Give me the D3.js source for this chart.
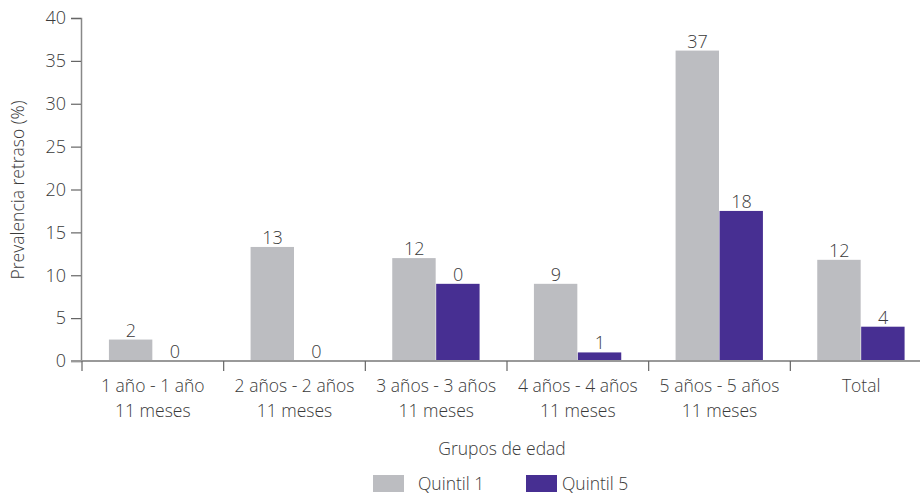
<!DOCTYPE html>
<html>
<head>
<meta charset="utf-8">
<script src="https://cdn.jsdelivr.net/npm/d3@7"></script>
<style>
  body { margin: 0; background: #fff; }
  svg text { font-family: "Open Sans", "Noto Sans", sans-serif; font-weight: 300; fill: #3a3a3a; }
</style>
</head>
<body>
<svg id="chart" width="920" height="494"></svg>
<script>
// age groups (two-line tick labels)
var groups = [
    ["1 año - 1 año", "11 meses"],
    ["2 años - 2 años", "11 meses"],
    ["3 años - 3 años", "11 meses"],
    ["4 años - 4 años", "11 meses"],
    ["5 años - 5 años", "11 meses"],
    ["Total"]
];
var seriesNames = ["Quintil 1", "Quintil 5"];
var quintil1 = [2.5, 13.3, 12.0, 9.0, 36.2, 11.8];
var quintil5 = [0, 0, 9.0, 1.0, 17.5, 4.0];
// labels as printed on the chart
var labels1 = ["2", "13", "12", "9", "37", "12"];
var labels5 = ["0", "0", "0", "1", "18", "4"];
var yTicks = [0, 5, 10, 15, 20, 25, 30, 35, 40];
var colors = ["#bcbdc1", "#472f92"];

var svg = d3.select("#chart");

var x = d3.scaleBand()
    .domain(d3.range(groups.length))
    .range([82, 932])
    .paddingInner(0)
    .paddingOuter(0);

var xInner = d3.scaleBand()
    .domain([0, 1])
    .range([x.bandwidth() * 0.19, x.bandwidth() * 0.81]);

var y = d3.scaleLinear()
    .domain([0, 40])
    .range([361, 18]);

var rows = groups.map(function(g, i) {
    return [
        {group: i, s: 0, value: quintil1[i], label: labels1[i]},
        {group: i, s: 1, value: quintil5[i], label: labels5[i]}
    ];
});

// bars
var gGroup = svg.append("g")
    .selectAll("g")
    .data(rows)
    .enter().append("g")
    .attr("transform", function(d, i) { return "translate(" + x(i) + ",0)"; });

gGroup.selectAll("rect")
    .data(function(d) { return d; })
    .enter().append("rect")
    .attr("x", function(d) { return xInner(d.s); })
    .attr("width", xInner.bandwidth() - 0.5)
    .attr("y", function(d) { return y(d.value); })
    .attr("height", function(d) { return y(0) - y(d.value); })
    .style("fill", function(d) { return colors[d.s]; });

gGroup.selectAll("text")
    .data(function(d) { return d; })
    .enter().append("text")
    .attr("x", function(d) { return xInner(d.s) + xInner.bandwidth() / 2; })
    .attr("y", function(d) { return y(d.value) - 3; })
    .attr("text-anchor", "middle")
    .style("font-size", "18px")
    .text(function(d) { return d.label; });

// y axis
var yAxis = svg.append("g")
    .attr("transform", "translate(81,0)")
    .call(d3.axisLeft(y).tickValues(yTicks).tickSize(10).tickPadding(5));
yAxis.select(".domain").attr("stroke", "#888").attr("stroke-width", 1.5);
yAxis.selectAll(".tick line").attr("stroke", "#666").attr("stroke-width", 1.2);
yAxis.selectAll(".tick text")
    .style("font-size", "18px")
    .style("font-family", "'Open Sans', 'Noto Sans', sans-serif")
    .style("font-weight", 300)
    .attr("fill", "#3a3a3a");

// x axis line + boundary ticks
var xAxisG = svg.append("g");
xAxisG.append("line")
    .attr("x1", 71).attr("x2", 920)
    .attr("y1", y(0)).attr("y2", y(0))
    .attr("stroke", "#999").attr("stroke-width", 2);
xAxisG.selectAll("line.tk")
    .data(d3.range(groups.length))
    .enter().append("line")
    .attr("class", "tk")
    .attr("x1", function(i) { return x(i); })
    .attr("x2", function(i) { return x(i); })
    .attr("y1", y(0))
    .attr("y2", y(0) + 10)
    .attr("stroke", "#666").attr("stroke-width", 1.2);

var xl = xAxisG.selectAll("text.xl")
    .data(groups)
    .enter().append("text")
    .attr("class", "xl")
    .attr("text-anchor", "middle")
    .style("font-size", "17.5px")
    .attr("transform", function(d, i) { return "translate(" + (x(i) + x.bandwidth() / 2) + ",392)"; });
xl.selectAll("tspan")
    .data(function(d) { return d; })
    .enter().append("tspan")
    .attr("x", 0)
    .attr("dy", function(d, j) { return j === 0 ? 0 : 25; })
    .text(function(d) { return d; });

// axis titles
svg.append("text")
    .attr("x", 502).attr("y", 455)
    .attr("text-anchor", "middle")
    .style("font-size", "17.5px")
    .text("Grupos de edad");

svg.append("text")
    .attr("transform", "translate(24,190) rotate(-90)")
    .attr("text-anchor", "middle")
    .style("font-size", "17.5px")
    .text("Prevalencia retraso (%)");

// legend
var legendX = [373, 526];
var legend = svg.append("g")
    .selectAll("g")
    .data(seriesNames)
    .enter().append("g")
    .attr("transform", function(d, i) { return "translate(" + legendX[i] + ",475)"; });
legend.append("rect")
    .attr("width", 31).attr("height", 17)
    .style("fill", function(d, i) { return colors[i]; });
legend.append("text")
    .attr("x", function(d, i) { return i === 0 ? 45 : 36; })
    .attr("y", 15)
    .style("font-size", "17.5px")
    .text(function(d) { return d; });
</script>
</body>
</html>
